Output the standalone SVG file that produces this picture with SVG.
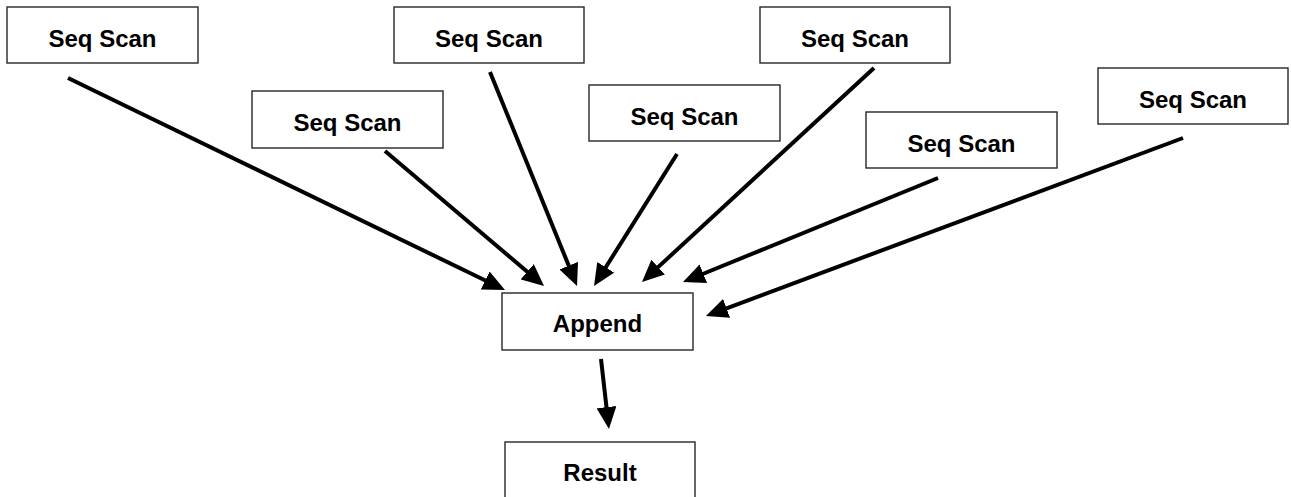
<svg xmlns="http://www.w3.org/2000/svg" width="1291" height="497" viewBox="0 0 1291 497">
<style>
.box{fill:#fff;stroke:#262626;stroke-width:1.4}
.lbl{font-family:"Liberation Sans",Arial,sans-serif;font-weight:bold;font-size:24px;fill:#000;text-anchor:middle}
.edge{stroke:#000;stroke-width:4;fill:none;marker-end:url(#ah)}
</style>
<defs>
<marker id="ah" markerUnits="userSpaceOnUse" markerWidth="22" markerHeight="20" viewBox="0 0 22 20" refX="10" refY="10" orient="auto">
<path d="M0,0 L22,10 L0,20 z" fill="#000"/>
</marker>
</defs>
<rect width="1291" height="497" fill="#fff"/>
<g id="connectors">
<line class="edge" x1="68" y1="78" x2="494.2" y2="284.8"/>
<line class="edge" x1="385" y1="151" x2="534.9" y2="278.2"/>
<line class="edge" x1="490" y1="72" x2="572.5" y2="274.9"/>
<line class="edge" x1="677" y1="154" x2="600.4" y2="275.8"/>
<line class="edge" x1="874" y1="68" x2="650.8" y2="273.9"/>
<line class="edge" x1="938" y1="178" x2="694.1" y2="277.5"/>
<line class="edge" x1="1183" y1="138" x2="717.2" y2="311.8"/>
<line class="edge" x1="601" y1="359" x2="607.6" y2="417.1"/>
</g>
<g id="scan1"><rect class="box" x="7" y="7" width="191" height="56"/><text class="lbl" x="102.5" y="47">Seq Scan</text></g>
<g id="scan2"><rect class="box" x="252" y="91" width="191" height="57"/><text class="lbl" x="347.5" y="131">Seq Scan</text></g>
<g id="scan3"><rect class="box" x="394" y="7" width="190" height="56"/><text class="lbl" x="489" y="47">Seq Scan</text></g>
<g id="scan4"><rect class="box" x="589" y="85" width="191" height="56"/><text class="lbl" x="684.5" y="125">Seq Scan</text></g>
<g id="scan5"><rect class="box" x="760" y="7" width="190" height="56"/><text class="lbl" x="855" y="47">Seq Scan</text></g>
<g id="scan6"><rect class="box" x="866" y="112" width="191" height="56"/><text class="lbl" x="961.5" y="152">Seq Scan</text></g>
<g id="scan7"><rect class="box" x="1098" y="68" width="190" height="56"/><text class="lbl" x="1193" y="108">Seq Scan</text></g>
<g id="append"><rect class="box" x="502" y="293" width="191" height="57"/><text class="lbl" x="597.5" y="332">Append</text></g>
<g id="result"><rect class="box" x="505" y="442" width="190" height="58"/><text class="lbl" x="600" y="481">Result</text></g>
</svg>
